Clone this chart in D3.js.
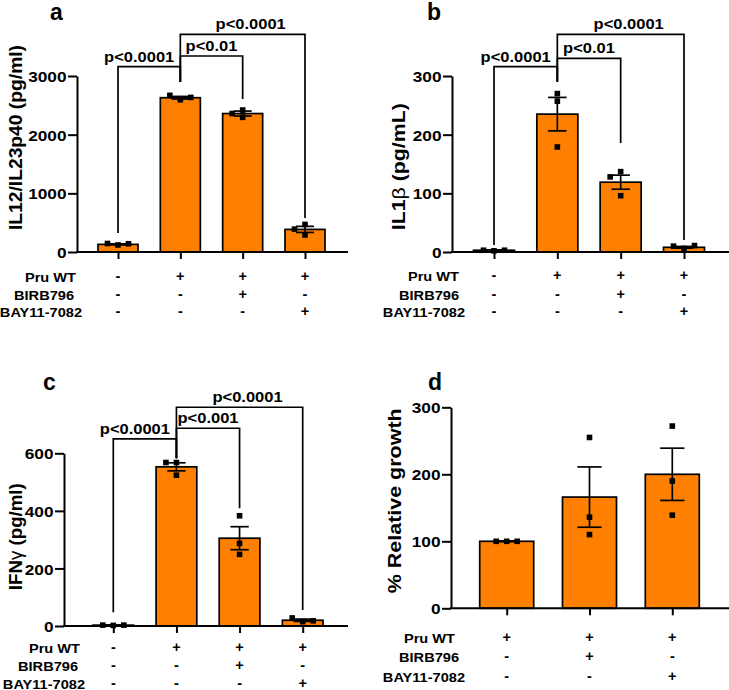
<!DOCTYPE html>
<html><head><meta charset="utf-8">
<script src="https://cdn.jsdelivr.net/npm/d3@7"></script>
<style>
body{margin:0;background:#fff}
svg{display:block}
text{font-family:"Liberation Sans",Arial,Helvetica,sans-serif;font-weight:bold;fill:#000}
</style>
</head><body>
<svg id="chart" width="729" height="690"></svg>
<script>
// ---------------- DATA ----------------
const conditionLabels = ["Pru WT", "BIRB796", "BAY11-7082"];
const marksFour = [["-", "+", "+", "+"], ["-", "-", "+", "-"], ["-", "-", "-", "+"]];
const marksThree = [["+", "+", "+"], ["-", "+", "-"], ["-", "-", "+"]];

// panel a: IL12/IL23p40
const il12Means = [130, 2630, 2360, 385];
const il12Sem = [8, 22, 42, 52];
const il12Points = [[120, 145, 140], [2595, 2670, 2635], [2420, 2360, 2295], [470, 390, 290]];
const il12Ticks = [0, 1000, 2000, 3000];
// [from, to, label, top, leftEnd, rightEnd] (data units)
const il12Comparisons = [[0, 1, "p<0.0001", 3159, 324, 2898], [1, 2, "p<0.01", 3341, 2898, 2608], [1, 3, "p<0.0001", 3711, 2898, 580]];

// panel b: IL1beta
const il1bMeans = [3, 235, 119, 8];
const il1bSem = [0.5, 28.5, 12, 1.5];
const il1bPoints = [[2, 3, 3], [270, 257, 179], [137, 128, 96], [6, 10, 11]];
const il1bTicks = [0, 100, 200, 300];
const il1bComparisons = [[0, 1, "p<0.0001", 316, 12, 290], [1, 2, "p<0.01", 330, 290, 186], [1, 3, "p<0.0001", 371, 290, 20.5]];

// panel c: IFNgamma
const ifngMeans = [3, 553, 305, 20];
const ifngSem = [0.5, 14, 40, 4];
const ifngPoints = [[2, 3, 3], [568, 568, 524], [383, 287, 249], [15, 28, 18]];
const ifngTicks = [0, 200, 400, 600];
const ifngComparisons = [[0, 1, "p<0.0001", 650, 47.6, 583], [1, 2, "p<0.001", 687, 583, 409], [1, 3, "p<0.0001", 760, 583, 55.6]];

// panel d: % relative growth
const growthMeans = [100, 166, 200];
const growthSem = [0.5, 45, 39];
const growthPoints = [[100, 100, 100], [255, 136, 110], [272, 190, 139]];
const growthTicks = [0, 100, 200, 300];
const growthComparisons = [];

// ---------------- LAYOUT ----------------
const ORANGE = "#FF8000";
const panels = [
  {letter: "a", ylabel: ["IL12/IL23p40 (pg/ml)"], means: il12Means, sem: il12Sem, pts: il12Points, ticks: il12Ticks, comps: il12Comparisons, marks: marksFour,
   x0: 77, x1: 348, c0: 118, c1: 305, yTop: 76, yBot: 252, bw: 40, lx: 50, ly: 20, ylx: 15.5, yly: 137.5, ylLen: 185,
   rowY: [282, 300, 317], rowRight: [76, 74, 82]},
  {letter: "b", ylabel: ["IL1", "β", " (pg/mL)"], means: il1bMeans, sem: il1bSem, pts: il1bPoints, ticks: il1bTicks, comps: il1bComparisons, marks: marksFour,
   x0: 452, x1: 729, c0: 494, c1: 684, yTop: 76, yBot: 252, bw: 41, lx: 427, ly: 20, ylx: 399, yly: 166.7, ylLen: 127,
   rowY: [281, 299.5, 317], rowRight: [459, 459, 465]},
  {letter: "c", ylabel: ["IFN", "γ", " (pg/ml)"], means: ifngMeans, sem: ifngSem, pts: ifngPoints, ticks: ifngTicks, comps: ifngComparisons, marks: marksFour,
   x0: 64, x1: 348, c0: 113.3, c1: 302.7, yTop: 453.3, yBot: 626, bw: 40.7, lx: 43, ly: 390, ylx: 15.5, yly: 536.7, ylLen: 107,
   rowY: [653, 671, 688.5], rowRight: [80, 78, 85]},
  {letter: "d", ylabel: ["% Relative growth"], means: growthMeans, sem: growthSem, pts: growthPoints, ticks: growthTicks, comps: growthComparisons, marks: marksThree,
   x0: 451, x1: 729, c0: 506.7, c1: 672.3, yTop: 407.3, yBot: 608.3, bw: 54, lx: 428, ly: 390, ylx: 395, yly: 500.8, ylLen: 185,
   rowY: [643, 662, 681.5], rowRight: [455, 459, 465]}
];
const labelShift = [-10, 0, 8];

const svg = d3.select("#chart");

function sText(g, x, y, str, size, sx, anchor) {
  return g.append("text")
    .attr("transform", `translate(${x},${y}) scale(${sx},1)`)
    .attr("text-anchor", anchor)
    .style("font-size", size + "px")
    .text(str);
}

function jitter(vals, y, step, minD) {
  const placed = [];
  vals.forEach(v => {
    const py = y(v);
    const offs = [0, -step, step, -2 * step, 2 * step];
    let off = offs.find(o => placed.every(p => Math.hypot(p.x - o, p.y - py) >= minD));
    if (off === undefined) off = 0;
    placed.push({x: off, y: py});
  });
  return placed;
}

panels.forEach(P => {
  const g = svg.append("g");
  const n = P.means.length;
  const idx = d3.range(n);
  const x = d3.scalePoint().domain(idx).range([P.c0, P.c1]);
  const y = d3.scaleLinear().domain([0, d3.max(P.ticks)]).range([P.yBot, P.yTop]);

  // bars
  g.selectAll("rect.bar").data(P.means).join("rect")
    .attr("x", (d, i) => x(i) - P.bw / 2)
    .attr("y", d => y(d))
    .attr("width", P.bw)
    .attr("height", d => P.yBot - y(d))
    .attr("fill", ORANGE).attr("stroke", "#000").attr("stroke-width", 1.7);

  // error bars
  const cap = P.bw * 0.45;
  P.means.forEach((m, i) => {
    const s = P.sem[i];
    const cx = x(i);
    const eg = g.append("g").attr("stroke", "#000").attr("stroke-width", 1.7);
    eg.append("line").attr("x1", cx).attr("x2", cx).attr("y1", y(m - s)).attr("y2", y(m + s));
    eg.append("line").attr("x1", cx - cap / 2).attr("x2", cx + cap / 2).attr("y1", y(m + s)).attr("y2", y(m + s));
    eg.append("line").attr("x1", cx - cap / 2).attr("x2", cx + cap / 2).attr("y1", y(m - s)).attr("y2", y(m - s));
  });

  // points
  P.pts.forEach((vals, i) => {
    const pl = jitter(vals, y, 10.5, 6);
    g.selectAll(null).data(pl).join("rect")
      .attr("x", d => x(i) + d.x - 2.8)
      .attr("y", d => d.y - 2.8)
      .attr("width", 5.6).attr("height", 5.6)
      .attr("fill", "#000");
  });

  // y axis
  const ya = g.append("g").attr("transform", `translate(${P.x0},0)`)
    .call(d3.axisLeft(y).tickValues(P.ticks).tickFormat(d3.format("d")).tickSize(9).tickSizeOuter(0).tickPadding(2));
  ya.attr("font-family", null).attr("font-size", null);
  ya.select(".domain").attr("stroke-width", 2);
  ya.selectAll(".tick line").attr("stroke-width", 2);
  ya.selectAll(".tick text")
    .attr("x", null).attr("dy", null)
    .attr("transform", "translate(-10.5,0) scale(1.15,1)")
    .attr("dominant-baseline", "central")
    .style("font-size", "15px");

  // x axis
  const xa = g.append("g").attr("transform", `translate(0,${P.yBot})`)
    .call(d3.axisBottom(x).tickSize(7).tickSizeOuter(0).tickFormat(""));
  xa.select(".domain").remove();
  xa.selectAll(".tick line").attr("stroke-width", 2);
  g.append("line").attr("x1", P.x0 - 1).attr("x2", P.x1).attr("y1", P.yBot).attr("y2", P.yBot)
    .attr("stroke", "#000").attr("stroke-width", 2);

  // comparisons brackets
  P.comps.forEach((c, k) => {
    const [a, b, lab, top, le, re] = c;
    const xl = x(a), xr = x(b);
    g.append("path")
      .attr("d", `M${xl},${y(le)}V${y(top)}H${xr}V${y(re)}`)
      .attr("fill", "none").attr("stroke", "#000").attr("stroke-width", 1.7);
    sText(g, (xl + xr) / 2 + labelShift[k], y(top) - 5, lab, 15, 1.1, "middle");
  });

  // condition table
  conditionLabels.forEach((lab, r) => {
    sText(g, P.rowRight[r], P.rowY[r], lab, 13.5, 1.08, "end");
    P.marks[r].forEach((m, i) => {
      sText(g, x(i), P.rowY[r] - 1, m, 14.5, 1, "middle");
    });
  });

  // panel letter
  g.append("text").attr("x", P.lx).attr("y", P.ly).style("font-size", "23px").text(P.letter);

  // y label
  const yl = g.append("text")
    .attr("transform", `translate(${P.ylx},${P.yly}) rotate(-90)`)
    .attr("text-anchor", "middle").attr("dominant-baseline", "central")
    .attr("textLength", P.ylLen).attr("lengthAdjust", "spacingAndGlyphs")
    .style("font-size", "17.5px");
  P.ylabel.forEach((part, j) => {
    const t = yl.append("tspan").text(part);
    if (part === "β" || part === "γ") t.style("font-weight", "normal");
  });
});
</script>
</body></html>
